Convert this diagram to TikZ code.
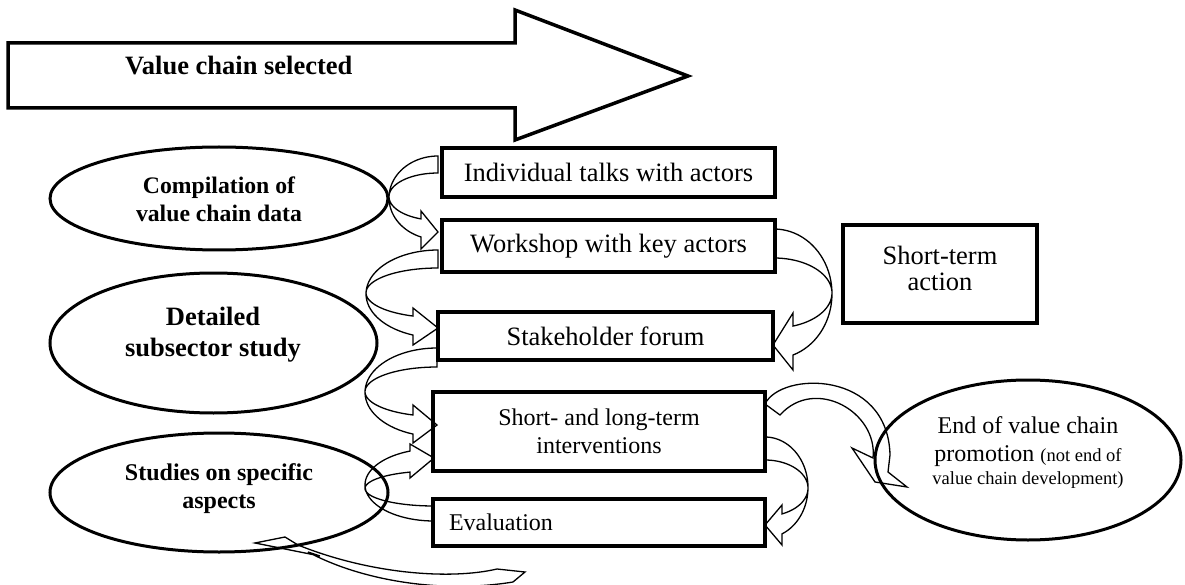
\documentclass[tikz,border=0pt]{standalone}
\usepackage{fontspec}
\setmainfont{Liberation Serif}
\usetikzlibrary{shapes.geometric}
\begin{document}
\begin{tikzpicture}[x=1pt,y=-1pt,
  box/.style={draw, line width=3.2pt, rectangle, inner sep=0pt, align=center,
              font=\fontsize{26.5}{31}\selectfont},
  oval/.style={draw, line width=3pt, ellipse, inner sep=0pt},
  etext/.style={align=center, inner sep=0pt},
  carrow/.style={draw, line width=1.3pt, line join=miter},
  sm/.style={samples=40, variable=\t},
]
\useasboundingbox[fill=white] (0,0) rectangle (1185,585);

% banner arrow
\draw[line width=3.5pt, line join=miter] (8,43) -- (515,43) -- (515,10) -- (688,76)
  -- (515,140) -- (515,108) -- (8,108) -- cycle;
\node[anchor=west, inner sep=0pt, font=\bfseries\fontsize{26.5}{31}\selectfont] (vcs) at (125,66) {Value chain selected};

% process boxes
\node[box, minimum width=333, minimum height=49] (b1) at (608.5,172.5) {Individual talks with actors};
\node[box, minimum width=333, minimum height=52] (b2) at (608.5,246) {Workshop with key actors};
\node[box, font=\fontsize{26.5}{26}\selectfont, text depth=11pt, minimum width=194, minimum height=98] (b3) at (940,274) {Short-term\\action};
\node[box, minimum width=335, minimum height=48] (b4) at (605.5,336) {Stakeholder forum};
\node[box, font=\fontsize{24}{28}\selectfont, minimum width=332, minimum height=79] (b5) at (599,431.5) {Short- and long-term\\interventions};
\node[box, font=\fontsize{24}{28}\selectfont, minimum width=332, minimum height=47, text width=300, align=left] (b6) at (599,522.5) {Evaluation};

% studies
\node[oval, minimum width=338, minimum height=103] (e1) at (219,198.5) {};
\node[oval, minimum width=327, minimum height=140] (e2) at (213.5,343) {};
\node[oval, minimum width=338, minimum height=119] (e3) at (219,492.5) {};
\node[oval, minimum width=306, minimum height=160] (e4) at (1028,460) {};

\node[etext, font=\bfseries\fontsize{23.7}{28}\selectfont] (t1) at (219,199) {Compilation of\\value chain data};
\node[etext, font=\bfseries\fontsize{26.5}{31}\selectfont] (t2) at (213,335) {Detailed\\subsector study};
\node[etext, font=\bfseries\fontsize{24}{28}\selectfont] (t3) at (219,489) {Studies on specific\\aspects};
\node[etext, font=\fontsize{24}{28}\selectfont] (t4) at (1028,453)
  {End of value chain\\promotion {\fontsize{18.5}{22}\selectfont(not end of}\\[-5pt]{\fontsize{18.5}{22}\selectfont value chain development)}};

% curved block arrows (outer and inner elliptical edges)
% talks -> workshop
\draw[carrow] (438,156) -- plot[sm, domain=270:110.3] ({438+49*cos(\t)},{197.8+41.8*sin(\t)})
  -- (421,249) -- (438,232) -- (421,211)
  -- plot[sm, domain=110.3:270] ({438+49*cos(\t)},{196.7+23.7*sin(\t)}) -- cycle;
% workshop -> forum (left)
\draw[carrow] (438,250) -- plot[sm, domain=270:110.3] ({438+72*cos(\t)},{293.9+43.9*sin(\t)})
  -- (413,345) -- (438,328) -- (413,308)
  -- plot[sm, domain=110.3:270] ({438+72*cos(\t)},{292.8+24.8*sin(\t)}) -- cycle;
% forum -> interventions
\draw[carrow] (437,348) -- plot[sm, domain=270:109.5] ({437+72*cos(\t)},{392.3+44.3*sin(\t)})
  -- (413,443) -- (437,425) -- (413,405)
  -- plot[sm, domain=109.5:270] ({437+72*cos(\t)},{391.7+24.7*sin(\t)}) -- cycle;
% evaluation -> interventions
\draw[carrow] (434,521) -- plot[sm, domain=90:249.6] ({434+69*cos(\t)},{484.9+36.1*sin(\t)})
  -- (410,444) -- (434,458) -- (410,478)
  -- plot[sm, domain=249.6:90] ({434+69*cos(\t)},{488.5+17.5*sin(\t)}) -- cycle;
% workshop -> forum (right)
\draw[carrow] (774,229) -- plot[sm, domain=-90:70.9] ({774+58*cos(\t)},{293.8+64.8*sin(\t)})
  -- (793,370) -- (773,345) -- (793,313)
  -- plot[sm, domain=70.9:-90] ({774+58*cos(\t)},{293+35*sin(\t)}) -- cycle;
% interventions -> evaluation
\draw[carrow] (765,437) -- plot[sm, domain=-90:66.7] ({765+43*cos(\t)},{487.5+50.5*sin(\t)})
  -- (782,545) -- (765,525) -- (782,505)
  -- plot[sm, domain=66.7:-90] ({765+43*cos(\t)},{488.1+28.1*sin(\t)}) -- cycle;
% interventions -> end of promotion
\draw[carrow] (765,404) .. controls (781,371) and (888,370) .. (890,455) -- (888,472) -- (907,487)
  -- (875,482) -- (852,448) -- (873,458) .. controls (878,412) and (815,376) .. (780,415) -- cycle;
% feedback to studies
\draw[carrow] (255,543) -- (285,537) -- (298,545) .. controls (370,574) and (450,580) .. (497,569)
  -- (525,572) -- (513,582) .. controls (440,594) and (360,580) .. (308,552) -- (320,556) -- cycle;
\end{tikzpicture}
\end{document}
